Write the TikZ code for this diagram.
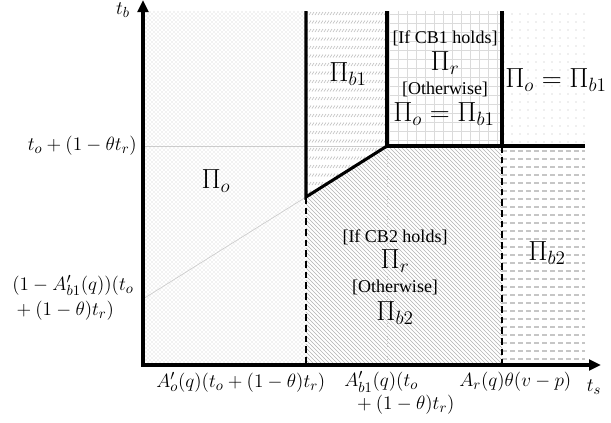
\documentclass[tikz,border=0pt]{standalone}
\usepackage{fontspec}
\setmainfont{Liberation Serif}
\usetikzlibrary{patterns,patterns.meta,arrows.meta}
\begin{document}
\begin{tikzpicture}[x=0.75pt,y=-0.75pt,
  thickline/.style={line width=2.3pt},
  dashline/.style={line width=1.5pt, dash pattern=on 5pt off 3pt},
  guide/.style={gray!40, line width=0.5pt},
  bigpi/.style={font=\fontsize{20}{24}\selectfont, inner sep=0pt},
  smallmath/.style={font=\fontsize{15.5}{17}\selectfont, inner sep=0pt},
  cond/.style={font=\fontsize{13.5}{16}\selectfont, inner sep=0pt}]
\useasboundingbox (0,0) rectangle (611,422);
% key points
\coordinate (O) at (143,365);
\coordinate (Ytip) at (143,0);
\coordinate (Xtip) at (601,365);
\coordinate (T0) at (143,11);
\coordinate (A) at (306,11);
\coordinate (K) at (306,197);
\coordinate (A0) at (306,365);
\coordinate (B) at (387,11);
\coordinate (H) at (387,146);
\coordinate (B0) at (387,365);
\coordinate (C) at (502,11);
\coordinate (Ch) at (502,146);
\coordinate (C0) at (502,365);
\coordinate (R) at (585,146);
\coordinate (R0) at (585,365);
\coordinate (Lh) at (143,146);
\coordinate (Ld) at (143,299);
% region fills
\fill[pattern=crosshatch dots, pattern color=gray!45] (T0) rectangle (A0);
\begin{scope}
  \clip (A)--(B)--(H)--(K)--cycle;
  \foreach \r in {0,...,22} \foreach \c in {0,...,28}
    \draw[gray!50, line width=0.5pt] ({306+\c*3},{15+\r*8.5}) -- ++(2,-3);
\end{scope}
\begin{scope}
  \clip (B) rectangle (Ch);
  \foreach \x in {389,398,...,502} \draw[gray!28, line width=0.5pt] (\x,11) -- (\x,146);
  \foreach \y in {14,23,...,146} \draw[gray!28, line width=0.5pt] (387,\y) -- (502,\y);
\end{scope}
\fill[pattern={Dots[distance=6pt,radius=0.45pt]}, pattern color=gray!55] (C) rectangle (R);
\fill[pattern=north west lines, pattern color=gray!60] (K)--(H)--(Ch)--(C0)--(A0)--cycle;
\begin{scope}
  \clip (Ch) rectangle (R0);
  \foreach \y in {151,159,...,365}
    \draw[gray!45, line width=0.9pt, dash pattern=on 4pt off 2pt] (502,\y) -- (585,\y);
\end{scope}
% guides
\draw[guide] (Lh) -- (H);
\draw[guide] (Ld) -- (K);
\draw[guide, dotted] (H) -- (B0);
% boundaries
\draw[thickline, line join=miter] (A) -- (K) -- (H);
\draw[thickline, line join=miter] (B) -- (H) -- (R);
\draw[thickline] (C) -- (Ch);
\draw[dashline] (K) -- (A0);
\draw[dashline] (Ch) -- (C0);
% axes
\draw[thickline, line join=miter, {Triangle[length=9pt,width=8pt]}-{Triangle[length=9pt,width=8pt]}] (Ytip) -- (O) -- (Xtip);
% labels
\node[smallmath] (lTb) at (123,10) {$t_b$};
\node[smallmath] (lTs) at (594,387) {$t_s$};
\node[smallmath, anchor=east] (lHor) at (137,146) {$t_o+(1-\theta t_r)$};
\node[smallmath, anchor=west, align=left] (lDiag) at (12,298) {$(1-A'_{b1}(q))(t_o$\\[2pt]${}+(1-\theta)t_r)$};
\node[smallmath, anchor=west] (lX1) at (156,382) {$A'_o(q)(t_o+(1-\theta)t_r)$};
\node[smallmath, anchor=west, align=left] (lX2) at (344,393) {$A'_{b1}(q)(t_o$\\$\;\,{}+(1-\theta)t_r)$};
\node[smallmath, anchor=west] (lX3) at (459,382) {$A_r(q)\theta(v-p)$};
\node[bigpi] (pO) at (216,181) {$\Pi_o$};
\node[bigpi] (pB1) at (348,74) {$\Pi_{b1}$};
\node[cond] (c1) at (445,38) {[If CB1 holds]};
\node[bigpi] (pR1) at (445,63) {$\Pi_r$};
\node[cond] (o1) at (445,89) {[Otherwise]};
\node[bigpi] (pOB1) at (444,114) {$\Pi_o=\Pi_{b1}$};
\node[bigpi, anchor=west] (pOB1r) at (505,80) {$\Pi_o=\Pi_{b1}$};
\node[cond] (c2) at (395,237) {[If CB2 holds]};
\node[bigpi] (pR2) at (395,261) {$\Pi_r$};
\node[cond] (o2) at (395,287) {[Otherwise]};
\node[bigpi] (pB2) at (395,313) {$\Pi_{b2}$};
\node[bigpi] (pB2r) at (547,253) {$\Pi_{b2}$};
\end{tikzpicture}
\end{document}
